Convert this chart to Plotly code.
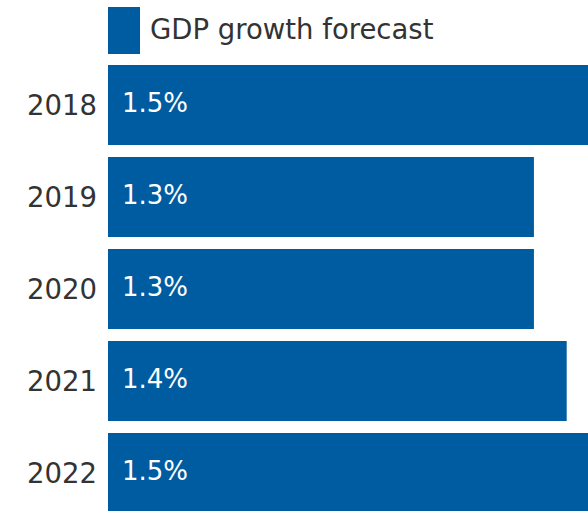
import plotly.graph_objects as go

# GDP growth forecast by year (percent)
years = ["2018", "2019", "2020", "2021", "2022"]
growth = [1.5, 1.3, 1.3, 1.4, 1.5]
series_name = "GDP growth forecast"

BLUE = "#005ca1"
TEXT = "#333333"
FONT = "DejaVu Sans, Verdana, sans-serif"
FS = 27.5

W, H = 588, 511
M_L, M_T = 108, 59
plot_w = W - M_L
plot_h = H - M_T

fig = go.Figure(
    go.Bar(
        x=growth,
        y=years,
        orientation="h",
        marker=dict(color=BLUE, line=dict(width=0)),
        showlegend=False,
        hoverinfo="skip",
    )
)

# value labels inside the bars, near the left end (category index positions)
for i, v in enumerate(growth):
    fig.add_annotation(
        x=0, y=i, xref="x", yref="y",
        text=f"{v:.1f}%", showarrow=False,
        xanchor="left", yanchor="middle", xshift=12, yshift=2,
        font=dict(family=FONT, size=26, color="white"),
    )

# custom legend: tall swatch plus label above the plot
fig.add_shape(
    type="rect", xref="paper", yref="paper",
    x0=0, x1=32 / plot_w,
    y0=(H - 54) / plot_h, y1=(H - 7) / plot_h,
    fillcolor=BLUE, line=dict(width=0),
)
fig.add_annotation(
    x=40 / plot_w, y=(H - 29) / plot_h, xref="paper", yref="paper",
    text=series_name, showarrow=False, xanchor="left", yanchor="middle",
    font=dict(family=FONT, size=FS, color=TEXT),
)

n = len(years)
fig.update_layout(
    width=W, height=H,
    margin=dict(l=M_L, r=0, t=M_T, b=0, pad=0),
    paper_bgcolor="white", plot_bgcolor="white",
    bargap=12 / 92,
    xaxis=dict(range=[0, 1.465], visible=False, fixedrange=True),
    yaxis=dict(
        type="category",
        categoryorder="array", categoryarray=years,
        range=[n - 0.5 - 8 / 92, -0.5],
        showgrid=False, zeroline=False, showline=False,
        ticks="", ticklabelstandoff=10,
        tickfont=dict(family=FONT, size=FS, color=TEXT),
        fixedrange=True,
    ),
)

fig.write_html("out.html")
